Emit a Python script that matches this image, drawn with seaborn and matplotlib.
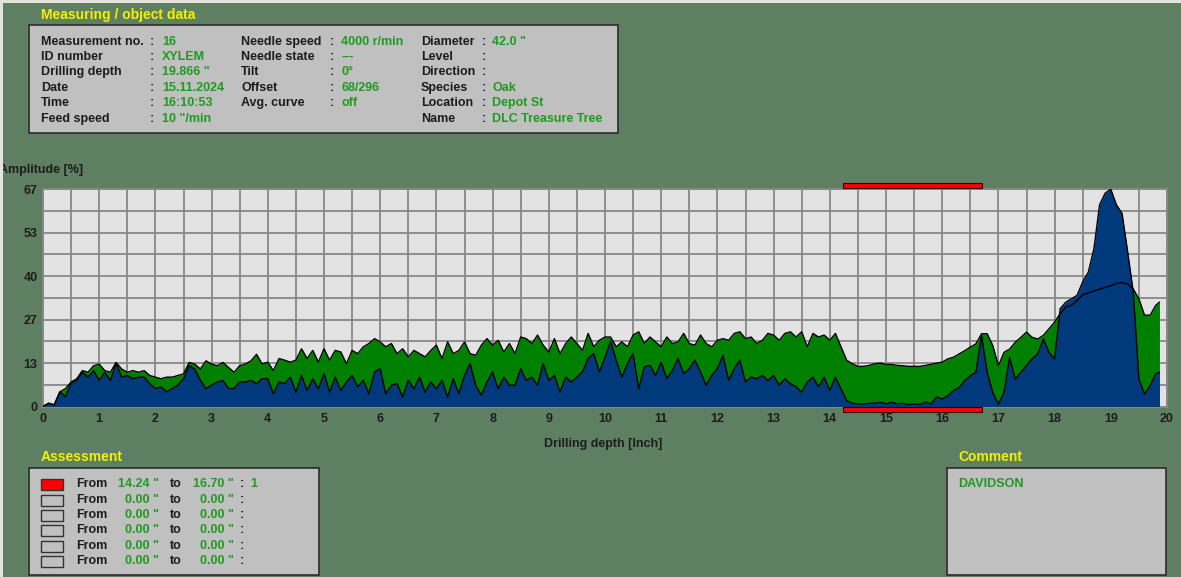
import numpy as np
import pandas as pd
import seaborn as sns
import matplotlib
matplotlib.use('Agg')
from matplotlib import pyplot as plt
from matplotlib.patches import Rectangle
import matplotlib.transforms as mtransforms

# drilling resistance profile, every 0.1 inch
depth = [round(i * 0.1, 1) for i in range(199)] + [19.866]

# feed (green) curve
feed = [
    0.0, 1.0, 0.5, 4.5, 5.5, 7.5, 8.5, 11.0, 10.5, 12.5,
    13.0, 11.0, 10.5, 13.5, 11.5, 10.5, 11.0, 10.5, 11.0, 9.5,
    9.0, 8.5, 9.0, 9.0, 9.5, 10.0, 13.5, 13.0, 11.5, 14.0,
    13.0, 12.5, 13.5, 12.0, 10.5, 12.5, 13.0, 14.0, 16.0, 13.0,
    13.6, 11.0, 14.7, 14.2, 13.6, 14.2, 17.7, 14.7, 17.2, 13.6,
    17.7, 14.2, 17.2, 16.7, 13.1, 17.2, 16.2, 18.3, 19.3, 20.8,
    19.8, 18.3, 19.3, 16.2, 17.7, 15.2, 17.2, 16.2, 15.2, 17.2,
    18.8, 14.7, 19.8, 16.2, 17.2, 19.8, 16.2, 15.7, 18.8, 20.8,
    18.8, 20.3, 16.7, 19.3, 16.2, 21.3, 20.8, 19.3, 21.9, 18.8,
    16.7, 20.8, 16.2, 19.3, 21.3, 19.3, 17.2, 22.4, 18.3, 20.3,
    21.3, 21.3, 18.3, 19.8, 18.3, 21.9, 22.9, 19.3, 21.3, 19.8,
    18.3, 21.3, 19.3, 19.8, 22.4, 19.3, 18.8, 21.9, 19.3, 18.3,
    20.3, 20.8, 20.3, 22.4, 22.9, 20.8, 21.3, 19.3, 20.3, 22.4,
    21.9, 20.3, 22.4, 22.9, 21.3, 22.9, 18.3, 22.4, 21.3, 21.9,
    20.3, 22.4, 18.3, 14.2, 13.1, 12.3, 12.3, 12.6, 13.1, 13.3,
    12.9, 12.9, 12.6, 12.5, 12.3, 12.3, 12.3, 12.6, 12.9, 13.3,
    13.6, 14.6, 15.1, 16.1, 17.1, 18.2, 19.2, 22.3, 22.3, 18.7,
    12.5, 16.6, 17.6, 19.7, 21.2, 22.8, 21.2, 20.7, 21.8, 23.8,
    25.9, 28.5, 30.5, 31.0, 32.5, 34.2, 34.8, 35.4, 36.0, 36.5,
    37.0, 37.7, 38.0, 37.5, 36.0, 33.0, 28.0, 28.0, 31.0, 32.0,
]

# drill / torque (blue) curve
drill = [
    0.0, 1.0, 0.5, 4.5, 3.0, 7.2, 8.0, 10.5, 9.0, 11.0,
    8.0, 10.5, 8.0, 13.3, 9.0, 9.5, 8.5, 9.0, 9.0, 7.0,
    5.5, 6.0, 4.5, 5.5, 6.5, 8.5, 12.5, 11.5, 8.0, 5.5,
    6.5, 7.5, 8.0, 5.5, 5.5, 7.5, 7.5, 8.0, 7.0, 8.5,
    8.5, 3.9, 7.5, 7.0, 9.0, 4.4, 9.5, 4.9, 8.5, 5.4,
    10.1, 4.4, 9.0, 4.9, 7.5, 9.5, 6.0, 8.0, 3.9, 10.6,
    11.6, 3.9, 6.5, 7.0, 2.9, 8.0, 5.4, 9.0, 4.4, 7.5,
    5.4, 8.0, 2.9, 8.5, 3.9, 9.5, 13.1, 6.5, 3.4, 7.5,
    10.6, 5.4, 9.0, 6.5, 6.5, 11.6, 8.0, 9.0, 6.5, 13.1,
    8.0, 9.5, 4.4, 9.0, 7.5, 9.0, 10.6, 14.7, 16.2, 10.6,
    15.0, 20.0, 14.2, 9.0, 13.1, 16.2, 5.4, 12.1, 12.6, 9.5,
    13.6, 8.5, 11.1, 14.7, 10.1, 11.6, 14.2, 10.6, 6.5, 9.5,
    11.6, 15.7, 8.0, 11.6, 14.2, 7.5, 9.0, 8.5, 9.5, 8.0,
    9.5, 6.5, 8.5, 7.0, 6.0, 4.4, 7.5, 9.0, 6.0, 9.0,
    4.9, 9.0, 5.4, 1.8, 1.0, 0.8, 0.8, 1.0, 1.0, 1.3,
    0.8, 1.3, 0.8, 1.0, 0.6, 0.8, 0.6, 1.3, 0.8, 2.9,
    2.3, 3.3, 4.8, 5.8, 7.9, 9.4, 10.5, 21.8, 10.5, 4.3,
    0.7, 4.3, 15.0, 8.4, 10.5, 12.5, 14.6, 16.1, 20.7, 16.6,
    14.6, 30.0, 32.0, 33.0, 34.1, 38.2, 41.2, 48.4, 61.8, 65.4,
    66.6, 61.8, 59.2, 47.4, 35.1, 8.4, 3.8, 6.4, 10.0, 10.5,
]

x_ticks = list(range(0, 21))
y_max = 200 / 3
y_labels = ['0', '13', '27', '40', '53', '67']

info_labels = [
    ['Measurement no.', 'ID number', 'Drilling depth', 'Date', 'Time', 'Feed speed'],
    ['Needle speed', 'Needle state', 'Tilt', 'Offset', 'Avg. curve', ''],
    ['Diameter', 'Level', 'Direction', 'Species', 'Location', 'Name'],
]
info_values = [
    ['16', 'XYLEM', '19.866 "', '15.11.2024', '16:10:53', '10 "/min'],
    ['4000 r/min', '---', '0°', '68/296', 'off', ''],
    ['42.0 "', '', '', 'Oak', 'Depot St', 'DLC Treasure Tree'],
]

assess_from = [14.24, 0.00, 0.00, 0.00, 0.00, 0.00]
assess_to = [16.70, 0.00, 0.00, 0.00, 0.00, 0.00]
assess_mark = ['1', '', '', '', '', '']
comment = 'DAVIDSON'

df = pd.DataFrame({'depth': depth, 'feed': feed, 'drill': drill})

sns.set_theme(style='white')
plt.rcParams['font.family'] = ['Liberation Sans', 'DejaVu Sans']
plt.rcParams['font.weight'] = 'bold'

W, H = 1181, 577
BG = '#5f7f62'
BOX = '#c0c0c0'
DARK = '#1c1c1c'
VAL = '#1f9a1f'
YEL = '#f2f200'

fig = plt.figure(figsize=(W / 100, H / 100), dpi=100)
fig.patch.set_facecolor(BG)


def ftext(x, y, s, **kw):
    kw.setdefault('va', 'center')
    kw.setdefault('fontsize', 9)
    kw.setdefault('color', DARK)
    kw.setdefault('fontweight', 'bold')
    fig.text(x / W, 1 - y / H, s, **kw)


def fbox(x0, y0, x1, y1, fc=BOX, ec='#2b2b2b', lw=1.2, z=1):
    fig.add_artist(Rectangle((x0 / W, 1 - y1 / H), (x1 - x0) / W, (y1 - y0) / H,
                             transform=fig.transFigure, facecolor=fc,
                             edgecolor=ec, lw=lw, zorder=z))


# measuring / object data box
ftext(41, 15, 'Measuring / object data', color=YEL, fontsize=10)
fbox(29, 25, 618, 133)
rows = [42, 57, 72, 88, 103, 119]
cols = [(41, 150, 162), (241, 330, 341), (421, 482, 492)]
for c, (xl, xc, xv) in enumerate(cols):
    for r, y in enumerate(rows):
        lab = info_labels[c][r]
        if not lab:
            continue
        ftext(xl, y, lab)
        ftext(xc, y, ':')
        if info_values[c][r]:
            ftext(xv, y, info_values[c][r], color=VAL)

# main chart
ax = fig.add_axes([43 / W, 1 - 406.5 / H, (1167 - 43) / W, (406.5 - 189) / H])
ax.set_facecolor('#e3e3e3')
ax.fill_between(df['depth'], df['feed'], color='#008000', lw=0, zorder=2)
ax.fill_between(df['depth'], df['drill'], color='#003a7c', lw=0, zorder=3)
sns.lineplot(x=df['depth'], y=df['feed'], color='black', lw=1, ax=ax, zorder=4)
sns.lineplot(x=df['depth'], y=df['drill'], color='black', lw=1, ax=ax, zorder=4)

ax.set_xlim(0, 20)
ax.set_ylim(0, y_max)
ax.set_xticks(x_ticks)
ax.set_xticklabels([str(t) for t in x_ticks])
ax.set_xticks([t + 0.5 for t in x_ticks[:-1]], minor=True)
ax.set_yticks([y_max * i / 5 for i in range(6)])
ax.set_yticklabels(y_labels)
ax.set_yticks([y_max * (i + 0.5) / 5 for i in range(5)], minor=True)
ax.set_axisbelow(True)
ax.grid(True, which='both', color='#888888', lw=1.3)
ax.tick_params(which='both', length=0, labelsize=9, labelcolor=DARK, pad=5)
ax.tick_params(axis='y', pad=4)
for s in ax.spines.values():
    s.set_color('#888888')
    s.set_linewidth(1.3)
ax.set_xlabel('')
ax.set_ylabel('')

# assessment markers above and below the plot
trans = mtransforms.blended_transform_factory(ax.transData, ax.transAxes)
for a, b, m in zip(assess_from, assess_to, assess_mark):
    if m:
        for yb in (1.004, -0.026):
            ax.add_patch(Rectangle((a, yb), b - a, 0.022, transform=trans,
                                   facecolor='#ff0000', edgecolor='#3a0000',
                                   lw=0.8, clip_on=False, zorder=5))

ftext(-1, 170, 'Amplitude [%]')
ftext(603, 444, 'Drilling depth [Inch]', ha='center')

# assessment box
ftext(41, 457, 'Assessment', color=YEL, fontsize=10)
fbox(29, 468, 319, 575)
arows = [484, 500, 515, 530, 546, 561]
for y, a, b, m in zip(arows, assess_from, assess_to, assess_mark):
    fbox(41, y - 5.5, 63, y + 5.5, fc='#ff0000' if m else BOX, ec='#333333', lw=1.0, z=2)
    ftext(76, y, 'From')
    ftext(159, y, f'{a:.2f} "', color=VAL, ha='right')
    ftext(170, y, 'to')
    ftext(234, y, f'{b:.2f} "', color=VAL, ha='right')
    ftext(240, y, ':')
    if m:
        ftext(250, y, m, color=VAL)

# comment box
ftext(958, 457, 'Comment', color=YEL, fontsize=10)
fbox(947, 468, 1166, 575)
ftext(958, 484, comment, color=VAL)

# light window frame on the left and top edge
fbox(0, 0, 3, H, fc='#e4e4dc', ec='none', lw=0, z=10)
fbox(0, 0, W, 3, fc='#e4e4dc', ec='none', lw=0, z=10)

fig.savefig('out.png', dpi=100, facecolor=BG)
